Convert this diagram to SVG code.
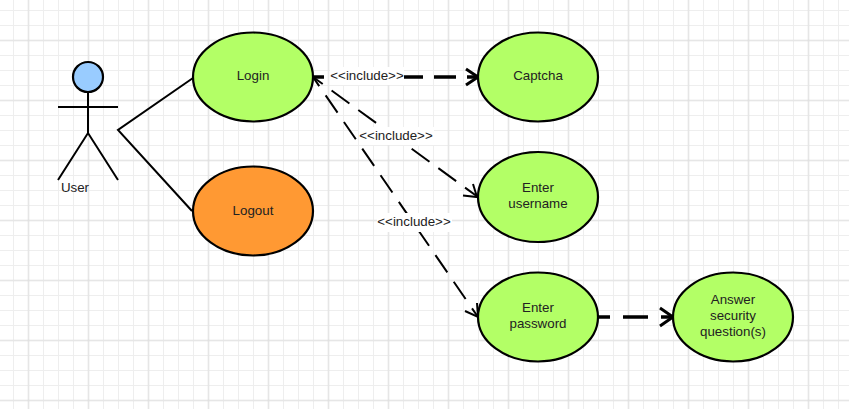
<svg xmlns="http://www.w3.org/2000/svg" width="849" height="409" viewBox="0 0 849 409">
<style>
text{font-family:"Liberation Sans",Arial,sans-serif;font-size:13.33px;fill:#222;text-anchor:middle}
.uc{stroke:#000;stroke-width:2.2}
.green{fill:#b3ff66}
.line{fill:none;stroke:#000;stroke-width:2}
.dash{fill:none;stroke:#000;stroke-width:2}
.thick{fill:none;stroke:#000;stroke-width:3.4}
.head{fill:none;stroke:#000;stroke-width:2}
.headb{fill:none;stroke:#000;stroke-width:3}
.bg{fill:#fff}
</style>
<defs>
<pattern id="minor" width="15" height="15" patternUnits="userSpaceOnUse" x="6" y="3"><path d="M7.500 0V15M0 7.500H15" fill="none" stroke="#eee" stroke-width="1"/></pattern>
<pattern id="major" width="60" height="60" patternUnits="userSpaceOnUse" x="-1.500" y="10.500"><path d="M30 0V60M0 30H60" fill="none" stroke="#ddd" stroke-width="1"/></pattern>
</defs>
<rect width="849" height="409" fill="#fff"/>
<rect width="849" height="409" fill="url(#minor)"/>
<rect width="849" height="409" fill="url(#major)"/>
<g id="connectors">
<path class="line" d="M193 78L118 130L192 211"/>
<path class="thick" stroke-dasharray="22 11" stroke-dashoffset="11" d="M313 77H476"/>
<path class="headb" d="M466 69L478 77L466 85"/>
<path class="dash" stroke-dasharray="22 11" stroke-dashoffset="10" d="M313 77L478 197"/>
<path class="head" d="M463 195.500L477 197L473 184"/>
<path class="dash" stroke-dasharray="21 11.300" stroke-dashoffset="10" d="M313 77L478 317"/>
<path class="head" d="M465 311L478 317L477 303"/>
<path class="thick" stroke-dasharray="25 13" stroke-dashoffset="13" d="M598 317H671"/>
<path class="headb" d="M660 308L673 317L660 326"/>
</g>
<g id="label-include-1"><rect class="bg" x="330" y="67" width="74" height="18"/><text x="367" y="80">&lt;&lt;include&gt;&gt;</text></g>
<g id="label-include-2"><rect class="bg" x="359" y="127" width="75" height="18"/><text x="396" y="140">&lt;&lt;include&gt;&gt;</text></g>
<g id="label-include-3"><rect class="bg" x="377" y="213" width="75" height="19"/><text x="414" y="226">&lt;&lt;include&gt;&gt;</text></g>
<g id="user">
<circle cx="88" cy="77" r="15" fill="#99ccff" class="uc"/>
<path class="line" d="M88 92V133M58 107H118M58 180L88 133L118 180"/>
<text x="75" y="192">User</text>
</g>
<g id="login"><ellipse class="uc green" cx="253" cy="77" rx="60" ry="44.500"/><text x="253" y="80">Login</text></g>
<g id="logout"><ellipse cx="253" cy="211" rx="60" ry="44.500" fill="#ff9933" class="uc"/><text x="253" y="215">Logout</text></g>
<g id="captcha"><ellipse class="uc green" cx="538" cy="77" rx="60" ry="44.500"/><text x="538" y="80">Captcha</text></g>
<g id="enter-username"><ellipse class="uc green" cx="538" cy="197" rx="60" ry="45"/><text x="538" y="192">Enter</text><text x="538" y="208">username</text></g>
<g id="enter-password"><ellipse class="uc green" cx="538" cy="317" rx="60" ry="44.500"/><text x="538" y="312">Enter</text><text x="538" y="328">password</text></g>
<g id="answer"><ellipse class="uc green" cx="733" cy="317" rx="60" ry="44.500"/><text x="733" y="304">Answer</text><text x="733" y="320">security</text><text x="733" y="336">question(s)</text></g>
</svg>
